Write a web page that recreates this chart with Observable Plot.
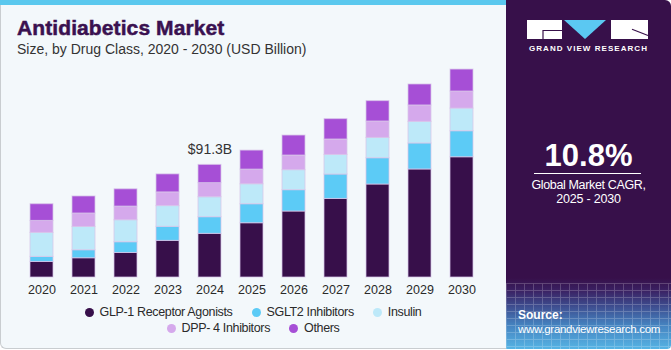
<!DOCTYPE html>
<html>
<head>
<meta charset="utf-8">
<script src="https://cdn.jsdelivr.net/npm/d3@7"></script>
<script src="https://cdn.jsdelivr.net/npm/@observablehq/plot@0.6"></script>
<style>
  html, body { margin: 0; padding: 0; }
  body { width: 671px; height: 350px; position: relative; overflow: hidden; background: #ffffff; font-family: "Liberation Sans", Arial, sans-serif; }
  #left { position: absolute; left: 0; top: 0; width: 505px; height: 348px; background: #f3f8fb; border-left: 1px solid #c9cdd0; border-bottom: 1px solid #c9cdd0; border-bottom-left-radius: 6px; box-sizing: content-box; }
  #stripe { position: absolute; left: 0; top: 0; width: 506px; height: 5px; background: #5ac8ee; }
  #title { position: absolute; left: 17px; top: 17px; font-size: 21px; line-height: 21px; font-weight: 900; color: #3a1150; -webkit-text-stroke: 0.5px #3a1150; letter-spacing: 0.1px; white-space: nowrap; }
  #subtitle { position: absolute; left: 17px; top: 41.5px; font-size: 14px; line-height: 14px; color: #333; white-space: nowrap; }
  #chart { position: absolute; left: 0; top: 60px; }
  .legend-row { position: absolute; left: 0; width: 506px; display: flex; justify-content: center; gap: 19px; font-size: 12.5px; line-height: 14px; color: #2a2a2a; letter-spacing: -0.35px; white-space: nowrap; }
  .item { display: flex; align-items: center; }
  .dot { width: 9px; height: 9px; border-radius: 50%; margin-right: 6px; }
  #right { position: absolute; left: 506px; top: 0; width: 165px; height: 349px; border-top-right-radius: 6px; border-bottom-right-radius: 4px; overflow: hidden;
    background: linear-gradient(to bottom, #37104a 0px, #37104a 278px, #3b2162 290px, #3e4a8c 305px, #4683c0 325px, #56b4e4 349px); }
  #grid { position: absolute; left: 0; top: 283px; width: 165px; height: 66px; opacity: 0.22;
    background-image: repeating-linear-gradient(to right, rgba(255,255,255,0.9) 0 1px, transparent 1px 9px), repeating-linear-gradient(to bottom, rgba(255,255,255,0.9) 0 1px, transparent 1px 7px); }
  .rt { position: absolute; left: 0; width: 165px; text-align: center; color: #ffffff; white-space: nowrap; }
</style>
</head>
<body>
<div id="left"></div>
<div id="stripe"></div>
<div id="title">Antidiabetics Market</div>
<div id="subtitle">Size, by Drug Class, 2020 - 2030 (USD Billion)</div>
<div id="chart"></div>
<div class="legend-row" id="legend1" style="top:305px"></div>
<div class="legend-row" id="legend2" style="top:321px"></div>

<div id="right">
  <div id="grid"></div>
  <svg width="165" height="60" style="position:absolute;left:0;top:0">
    <rect x="21" y="20" width="35" height="19" fill="#ffffff"/>
    <path d="M37 39 V30.5 H56" fill="none" stroke="#37104a" stroke-width="1.2"/>
    <polygon points="58,20 100,20 79,39" fill="#5bc8f2"/>
    <rect x="105" y="20" width="37" height="19" fill="#ffffff"/>
    <path d="M126 29.3 L142 35.5" fill="none" stroke="#37104a" stroke-width="1.2"/>
  </svg>
  <div class="rt" style="top:45px;font-size:8px;line-height:8px;font-weight:bold;letter-spacing:1.05px;">GRAND VIEW RESEARCH</div>
  <div class="rt" style="top:139.5px;font-size:31px;line-height:31px;font-weight:bold;">10.8%</div>
  <div style="position:absolute;left:28px;top:172.5px;width:107px;height:1.5px;background:#ffffff;"></div>
  <div class="rt" style="top:178.5px;font-size:12.5px;line-height:13px;letter-spacing:-0.35px;">Global Market CAGR,</div>
  <div class="rt" style="top:193px;font-size:12.5px;line-height:13px;letter-spacing:-0.2px;">2025 - 2030</div>
  <div style="position:absolute;left:12px;top:309px;font-size:12px;line-height:12px;font-weight:bold;color:#fff;">Source:</div>
  <div style="position:absolute;left:12px;top:323px;font-size:11.5px;line-height:12px;color:#fff;letter-spacing:-0.3px;white-space:nowrap;">www.grandviewresearch.com</div>
</div>

<script>
// ---- data (USD Billion) ----
const years = ["2020","2021","2022","2023","2024","2025","2026","2027","2028","2029","2030"];
const seriesNames = ["GLP-1 Receptor Agonists","SGLT2 Inhibitors","Insulin","DPP- 4 Inhibitors","Others"];
const glp1     = [12.6, 15.6, 19.9, 29.7, 35.4, 44.0, 53.5, 63.7, 75.4, 87.6, 97.5];
const sglt2    = [ 4.1,  6.5,  8.7, 11.4, 13.5, 15.4, 17.3, 19.8, 21.3, 21.1, 21.1];
const insulin  = [19.5, 18.9, 17.8, 16.8, 16.2, 16.2, 16.2, 15.9, 16.5, 17.5, 18.4];
const dpp4     = [ 9.7, 10.9, 11.1, 11.1, 11.4, 11.9, 11.9, 12.5, 13.3, 13.3, 13.8];
const others   = [13.5, 13.8, 14.0, 14.6, 14.8, 15.4, 16.2, 16.5, 16.5, 17.0, 17.8];
const seriesColors = ["#370f4a", "#5ccbf6", "#bde9f9", "#d5a9ec", "#a64fd6"];
const highlightYear = "2024";
const highlightText = "$91.3B";

const seriesValues = [glp1, sglt2, insulin, dpp4, others];
const data = [];
seriesNames.forEach((s, si) => {
  years.forEach((y, yi) => data.push({year: y, series: s, value: seriesValues[si][yi]}));
});
const hi = years.indexOf(highlightYear);
const hiTotal = d3.sum(seriesValues, arr => arr[hi]);

const chart = Plot.plot({
  width: 500,
  height: 240,
  marginLeft: 11,
  marginRight: 8,
  marginTop: 0,
  marginBottom: 23,
  style: {background: "transparent", fontFamily: "'Liberation Sans', Arial, sans-serif", fontSize: "12.5px", color: "#2a2a2a", overflow: "visible"},
  x: {domain: years, padding: 0.45, label: null, tickSize: 0, tickPadding: 8},
  y: {domain: [0, 175.95], axis: null},
  color: {domain: seriesNames, range: seriesColors},
  marks: [
    Plot.barY(data, {x: "year", y: "value", fill: "series", stroke: "#d8c6ea", strokeWidth: 1, strokeOpacity: 0.75}),
    Plot.text([{year: highlightYear, total: hiTotal, label: highlightText}], {x: "year", y: "total", text: "label", dy: -15, fontSize: 14, fill: "#333"})
  ]
});
document.getElementById("chart").appendChild(chart);

// legend
const rows = [[0, 1, 2], [3, 4]];
rows.forEach((r, ri) => {
  const el = document.getElementById(ri === 0 ? "legend1" : "legend2");
  r.forEach(i => {
    const item = document.createElement("div");
    item.className = "item";
    const dot = document.createElement("span");
    dot.className = "dot";
    dot.style.background = seriesColors[i];
    const t = document.createElement("span");
    t.textContent = seriesNames[i];
    item.appendChild(dot);
    item.appendChild(t);
    el.appendChild(item);
  });
});
</script>
</body>
</html>
